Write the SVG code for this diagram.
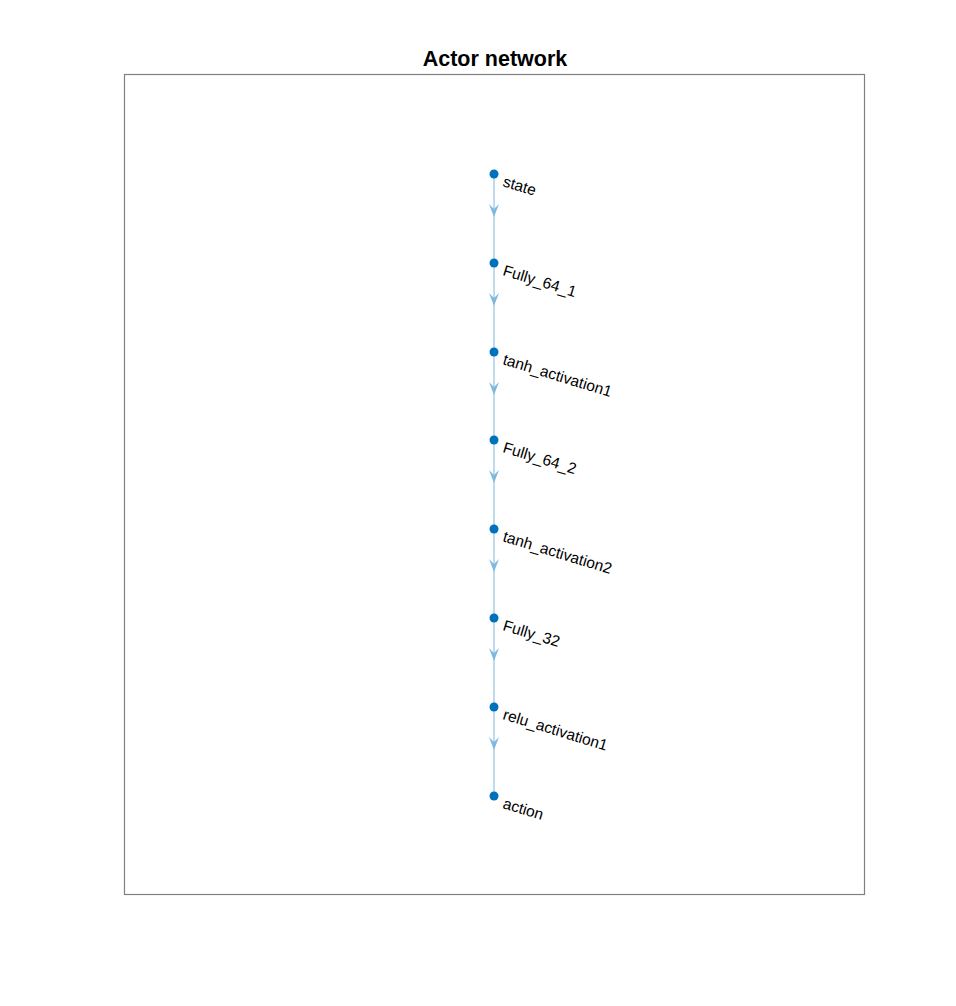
<svg xmlns="http://www.w3.org/2000/svg" width="956" height="1006" viewBox="0 0 956 1006">
<defs>
<style>
.lbl{font-family:"Liberation Sans",Arial,sans-serif;font-size:15.5px;fill:#000}
.edge{stroke:#7fb8de;stroke-width:1;fill:none}
.node{fill:#0072bd}
</style>
<path id="ah" d="M-5,-8 L0,5 L5,-8 L0,-3 Z" fill="#7fb8de"/>
</defs>
<rect width="956" height="1006" fill="#fff"/>
<rect x="124.5" y="74.5" width="740" height="820" fill="#fff" stroke="#808080" stroke-width="1.2"/>
<text x="495" y="66" text-anchor="middle" font-family="Liberation Sans,Arial,sans-serif" font-size="21.5" font-weight="bold">Actor network</text>
<g id="connectors">
<line class="edge" x1="494" y1="174" x2="494" y2="796"/>
<use href="#ah" x="494" y="212"/>
<use href="#ah" x="494" y="301"/>
<use href="#ah" x="494" y="390"/>
<use href="#ah" x="494" y="478"/>
<use href="#ah" x="494" y="567"/>
<use href="#ah" x="494" y="656"/>
<use href="#ah" x="494" y="745"/>
</g>
<g id="n1"><circle class="node" cx="494" cy="174" r="4.5"/><text class="lbl" transform="translate(502,186) rotate(17)">state</text></g>
<g id="n2"><circle class="node" cx="494" cy="263" r="4.5"/><text class="lbl" transform="translate(502,275) rotate(17)">Fully_64_1</text></g>
<g id="n3"><circle class="node" cx="494" cy="352" r="4.5"/><text class="lbl" transform="translate(502,364) rotate(17)">tanh_activation1</text></g>
<g id="n4"><circle class="node" cx="494" cy="440" r="4.5"/><text class="lbl" transform="translate(502,452) rotate(17)">Fully_64_2</text></g>
<g id="n5"><circle class="node" cx="494" cy="529" r="4.5"/><text class="lbl" transform="translate(502,541) rotate(17)">tanh_activation2</text></g>
<g id="n6"><circle class="node" cx="494" cy="618" r="4.5"/><text class="lbl" transform="translate(502,630) rotate(17)">Fully_32</text></g>
<g id="n7"><circle class="node" cx="494" cy="707" r="4.5"/><text class="lbl" transform="translate(502,719) rotate(17)">relu_activation1</text></g>
<g id="n8"><circle class="node" cx="494" cy="796" r="4.5"/><text class="lbl" transform="translate(502,808) rotate(17)">action</text></g>
</svg>
